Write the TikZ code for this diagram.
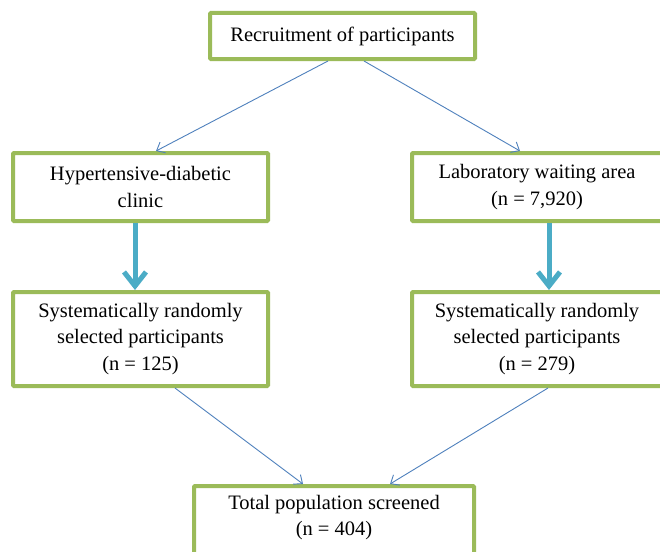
\documentclass[tikz,border=0pt]{standalone}
\usepackage{fontspec}
\setmainfont{Liberation Serif}
\usetikzlibrary{arrows.meta}
\definecolor{boxgreen}{RGB}{155,187,89}
\definecolor{linkblue}{RGB}{79,129,189}
\definecolor{flowblue}{RGB}{75,172,198}
\begin{document}
\begin{tikzpicture}[x=1pt,y=-1pt,
  stage/.style={draw=boxgreen,line width=4pt,rounded corners=1pt,fill=white,
    align=center,inner sep=0pt,font=\fontsize{20.5}{26.5}\selectfont},
  link/.style={draw=linkblue,line width=0.9pt,-{Straight Barb[length=7pt,width=12pt]}},
  flow/.style={draw=flowblue,line width=5pt,-{Straight Barb[length=14pt,width=22pt]}}]
\useasboundingbox[fill=white] (0,0) rectangle (660,551);
\node[stage,minimum width=265pt,minimum height=46pt] (recruit) at (342.5,36) {Recruitment of participants};
\node[stage,minimum width=255pt,minimum height=68pt] (clinic) at (140.5,187) {Hypertensive-diabetic\\clinic};
\node[stage,minimum width=250pt,minimum height=68pt] (lab) at (537,187) {Laboratory waiting area\\(n = 7,920)};
\node[stage,minimum width=255pt,minimum height=94pt] (selclinic) at (140.5,339) {Systematically randomly\\selected participants\\(n = 125)};
\node[stage,minimum width=250pt,minimum height=94pt] (sellab) at (537,339) {Systematically randomly\\selected participants\\(n = 279)};
\node[stage,minimum width=280pt,anchor=north,inner ysep=9pt,text depth=60pt] (total) at (334,484) {Total population screened\\(n = 404)};
\draw[link] ([xshift=-14.5pt]recruit.south) -- ([xshift=15.5pt]clinic.north);
\draw[link] ([xshift=21.5pt]recruit.south) -- ([xshift=-17pt]lab.north);
\draw[flow] ([xshift=-5.5pt]clinic.south) -- ([xshift=-5.5pt]selclinic.north);
\draw[flow] ([xshift=12pt]lab.south) -- ([xshift=12pt]sellab.north);
\draw[link] ([xshift=34.5pt]selclinic.south) -- ([xshift=-31pt]total.north);
\draw[link] ([xshift=11pt]sellab.south) -- ([xshift=56pt]total.north);
\end{tikzpicture}
\end{document}
